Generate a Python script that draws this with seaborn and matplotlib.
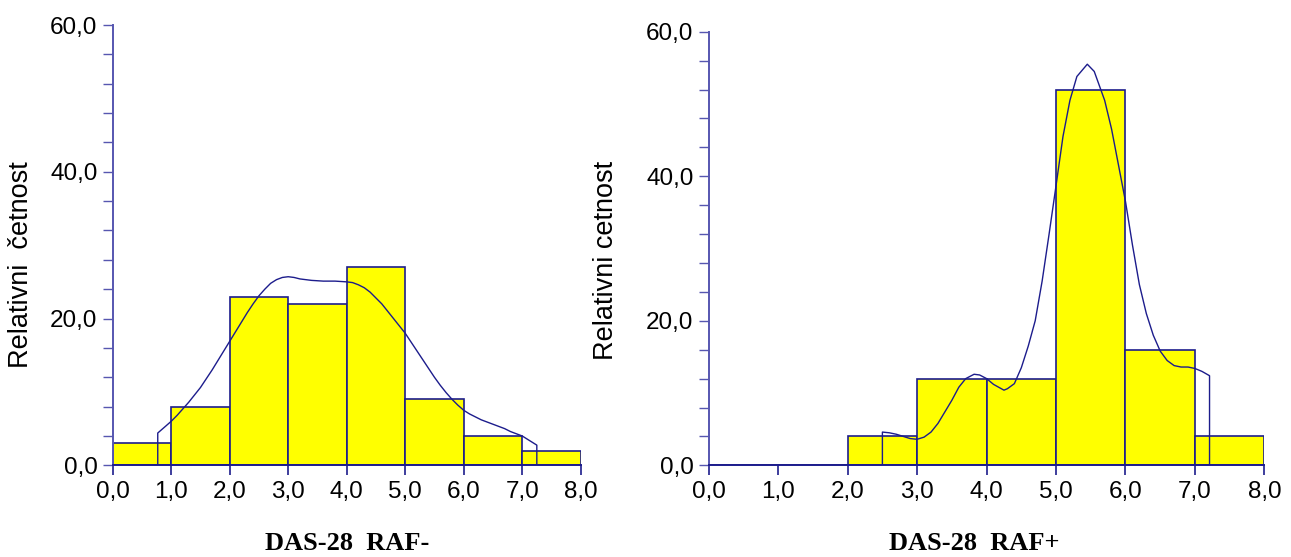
import numpy as np
import pandas as pd
import seaborn as sns
import matplotlib
matplotlib.use("Agg")
import matplotlib.pyplot as plt
from matplotlib.ticker import MultipleLocator, FuncFormatter

# ---- data ----
bin_edges = [0, 1, 2, 3, 4, 5, 6, 7, 8]
raf_neg_values = [3, 8, 23, 22, 27, 9, 4, 2]
raf_pos_values = [0, 0, 4, 12, 12, 52, 16, 4]

neg_curve_x = [0.77, 0.77, 0.9, 1.0, 1.1, 1.2, 1.3, 1.4, 1.5, 1.6, 1.7, 1.8, 1.9, 2.0, 2.1, 2.2,
               2.3, 2.4, 2.5, 2.6, 2.7, 2.8, 2.9, 3.0, 3.1, 3.2, 3.4, 3.6, 3.8, 4.0, 4.1, 4.2,
               4.3, 4.4, 4.5, 4.6, 4.7, 4.8, 4.9, 5.0, 5.1, 5.2, 5.3, 5.4, 5.5, 5.6, 5.7, 5.8,
               5.9, 6.0, 6.1, 6.2, 6.3, 6.4, 6.5, 6.6, 6.7, 6.8, 6.9, 7.0, 7.1, 7.25, 7.25]
neg_curve_y = [0.0, 4.4, 5.3, 6.0, 6.8, 7.7, 8.6, 9.6, 10.6, 11.8, 13.0, 14.3, 15.6, 16.9, 18.2, 19.5,
               20.8, 22.0, 23.1, 24.0, 24.8, 25.3, 25.6, 25.7, 25.6, 25.4, 25.2, 25.1, 25.1, 25.0, 24.9, 24.6,
               24.2, 23.6, 22.8, 22.0, 21.0, 20.0, 19.0, 18.0, 16.8, 15.6, 14.4, 13.2, 12.0, 10.9, 9.9, 9.0,
               8.2, 7.5, 7.0, 6.6, 6.2, 5.9, 5.6, 5.3, 5.0, 4.6, 4.3, 4.0, 3.5, 2.75, 0.0]

pos_curve_x = [2.5, 2.5, 2.6, 2.7, 2.8, 2.9, 3.0, 3.1, 3.2, 3.3, 3.4, 3.5, 3.6, 3.7, 3.82, 3.9,
               4.0, 4.1, 4.25, 4.3, 4.4, 4.5, 4.6, 4.7, 4.8, 4.9, 5.0, 5.1, 5.2, 5.3, 5.45, 5.55,
               5.7, 5.8, 5.9, 6.0, 6.1, 6.2, 6.3, 6.4, 6.5, 6.6, 6.7, 6.8, 6.9, 7.0, 7.1, 7.21, 7.21]
pos_curve_y = [0.0, 4.6, 4.5, 4.3, 4.0, 3.7, 3.6, 3.9, 4.6, 5.8, 7.4, 9.0, 10.8, 12.0, 12.6, 12.5,
               12.0, 11.2, 10.4, 10.6, 11.3, 13.5, 16.5, 20.0, 25.5, 32.0, 38.7, 45.5, 50.5, 53.8, 55.5, 54.5,
               50.5, 46.5, 41.5, 36.5, 30.5, 25.0, 21.0, 18.0, 15.8, 14.5, 13.8, 13.6, 13.6, 13.4, 13.0, 12.4, 0.0]

x_ticks = [0, 1, 2, 3, 4, 5, 6, 7, 8]
y_ticks = [0, 20, 40, 60]
titles = ["DAS-28  RAF-", "DAS-28  RAF+"]
ylabels = ["Relativni  \u010detnost", "Relativni cetnost"]

# ---- style ----
sns.set_style("white")
plt.rcParams["font.family"] = ["Liberation Sans", "DejaVu Sans"]
plt.rcParams["text.color"] = "black"
plt.rcParams["xtick.labelcolor"] = "black"
plt.rcParams["ytick.labelcolor"] = "black"

BAR_FILL = "#ffff00"
EDGE = "#1c1c8c"
SPINE_L = "#5656b0"

fig = plt.figure(figsize=(12.91, 5.57), dpi=100)
ax_l = fig.add_axes([0.0873, 0.1646, 0.3625, 0.7905])
ax_r = fig.add_axes([0.5490, 0.1646, 0.4304, 0.7785])

centers = [(a + b) / 2 for a, b in zip(bin_edges[:-1], bin_edges[1:])]

fmt = FuncFormatter(lambda v, p: f"{v:.1f}".replace(".", ","))

for ax, vals, cx, cy in [
    (ax_l, raf_neg_values, neg_curve_x, neg_curve_y),
    (ax_r, raf_pos_values, pos_curve_x, pos_curve_y),
]:
    df = pd.DataFrame({"x": centers, "w": vals})
    df = df[df["w"] > 0]
    sns.histplot(data=df, x="x", weights="w", bins=bin_edges, ax=ax,
                 color=BAR_FILL, edgecolor=EDGE, linewidth=1.2, alpha=1.0)
    cdf = pd.DataFrame({"x": cx, "y": cy})
    sns.lineplot(data=cdf, x="x", y="y", sort=False, estimator=None, ax=ax,
                 color=EDGE, linewidth=1.0)

    ax.set_xlim(0, 8)
    ax.set_ylim(0, 60)
    ax.set_xticks(x_ticks)
    ax.set_yticks(y_ticks)
    ax.yaxis.set_minor_locator(MultipleLocator(4))
    ax.xaxis.set_major_formatter(fmt)
    ax.yaxis.set_major_formatter(fmt)
    ax.tick_params(axis="x", which="major", direction="out", length=7, width=1.2,
                   color=EDGE, labelsize=17.5, pad=4, bottom=True, labelcolor="black")
    ax.tick_params(axis="y", which="both", direction="out", length=7, width=1.0,
                   color=SPINE_L, labelsize=17.5, pad=4, left=True, labelcolor="black")
    for s in ["top", "right"]:
        ax.spines[s].set_visible(False)
    ax.spines["left"].set_color(SPINE_L)
    ax.spines["left"].set_linewidth(1.4)
    ax.spines["bottom"].set_color(EDGE)
    ax.spines["bottom"].set_linewidth(1.4)
    ax.set_xlabel("")
    ax.set_ylabel("")
    ax.set_facecolor("white")

# axis titles
fig.text(21 / 1291, 1 - 265 / 557, ylabels[0], rotation=90, ha="center", va="center", fontsize=19.5)
fig.text(606 / 1291, 1 - 260 / 557, ylabels[1], rotation=90, ha="center", va="center", fontsize=19.5)
fig.text(347 / 1291, 1 - 543 / 557, titles[0], ha="center", va="center", fontsize=19,
         fontweight="bold", family=["Liberation Serif", "DejaVu Serif"])
fig.text(974 / 1291, 1 - 543 / 557, titles[1], ha="center", va="center", fontsize=19,
         fontweight="bold", family=["Liberation Serif", "DejaVu Serif"])

fig.savefig("out.png", dpi=100, facecolor="white")
